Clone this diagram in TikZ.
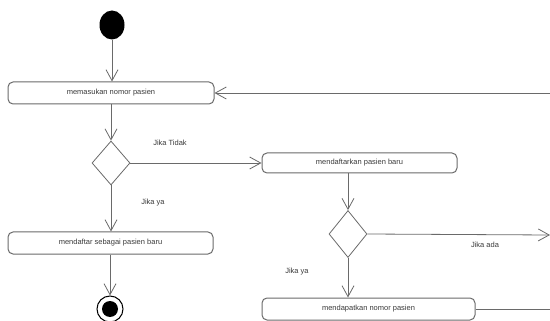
\documentclass[tikz,border=0pt]{standalone}
\usepackage{fontspec}
\setmainfont{Liberation Sans}
\usetikzlibrary{arrows.meta,shapes.geometric}
\definecolor{lineclr}{HTML}{6A6A6A}
\definecolor{txtclr}{HTML}{3A3A3A}
\tikzset{
  action/.style={draw=lineclr, line width=1pt, rounded corners=5pt, minimum height=22pt,
    inner sep=0pt, font=\fontsize{7.5}{8}\selectfont, text=txtclr},
  decision/.style={draw=lineclr, line width=0.8pt, diamond, inner sep=0pt, fill=white},
  flow/.style={draw=lineclr, line width=0.8pt, -{Straight Barb[length=11pt,width=12pt]}},
  plain/.style={draw=lineclr, line width=1pt},
  guard/.style={font=\fontsize{7.5}{8}\selectfont, text=txtclr},
}
\begin{document}
\begin{tikzpicture}[x=1pt,y=-1pt]
\useasboundingbox (0,0) rectangle (550,321);

% initial and final states
\node[ellipse, fill=black, minimum width=25pt, minimum height=29pt, inner sep=0pt] (start) at (112,25) {};
\node[circle, draw=black, line width=1pt, minimum size=26pt, inner sep=0pt, fill=white] (end) at (110,309) {};
\node[circle, fill=black, minimum size=16pt, inner sep=0pt] at (end) {};

% actions
\node[action, minimum width=206pt] (a1) at (111,93) {memasukan nomor pasien};
\node[action, minimum width=205pt] (a4) at (110.5,243) {mendaftar sebagai pasien baru};
\node[action, minimum width=195pt, minimum height=20pt] (a2) at (359.5,163) {mendaftarkan pasien baru};
\node[action, minimum width=213pt] (a3) at (368.5,309) {mendapatkan nomor pasien};

% decisions
\node[decision, minimum width=38pt, minimum height=44pt] (d1) at (111,163) {};
\node[decision, minimum width=38pt, minimum height=47pt] (d2) at (348,234) {};

% loose ends at the right border
\coordinate (back) at (550,93);
\coordinate (out) at (550,235);
\coordinate (down) at (550,309);

% flows
\draw[flow] (start) -- (a1.north -| start);
\draw[flow] (a1.south -| d1) -- (d1.north);
\draw[flow] (d1.east) -- (a2.west |- d1.east);
\draw[flow] (d1.south) -- (a4.north -| d1);
\draw[flow] (a4.south -| end) -- (end.north);
\draw[flow] (a2.south -| d2) -- (d2.north);
\draw[flow] (d2.east) -- (out);
\draw[flow] (d2.south) -- (a3.north -| d2);
\draw[plain] (a3.east) -- (down);
\draw[flow] (back) -- (a1.east);

% guards
\node[guard] (g1) at (170,143) {Jika Tidak};
\node[guard] (g2) at (153,203) {Jika ya};
\node[guard] (g3) at (485,245) {Jika ada};
\node[guard] (g4) at (297,272) {Jika ya};
\end{tikzpicture}
\end{document}
